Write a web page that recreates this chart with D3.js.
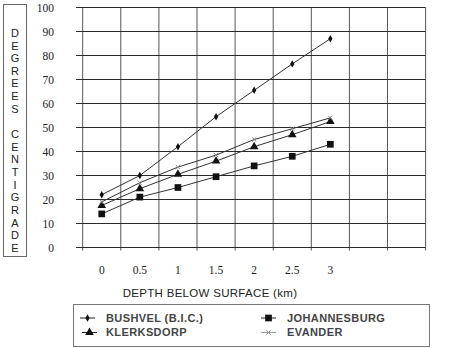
<!DOCTYPE html>
<html><head><meta charset="utf-8">
<script src="https://cdn.jsdelivr.net/npm/d3@7/dist/d3.min.js"></script>
<style>
html,body{margin:0;padding:0;background:#fff;}
svg{display:block;}
.serif{font-family:"Liberation Serif","Times New Roman","DejaVu Serif",serif;}
.sans{font-family:"Liberation Sans",Arial,"DejaVu Sans",sans-serif;}
</style></head>
<body>
<script>
const depths = [0, 0.5, 1, 1.5, 2, 2.5, 3];
const xTickLabels = ["0", "0.5", "1", "1.5", "2", "2.5", "3"];
const yTicks = [0, 10, 20, 30, 40, 50, 60, 70, 80, 90, 100];
const bushvel = [22, 30, 42, 54.5, 65.5, 76.5, 87];
const johannesburg = [14, 21, 25, 29.5, 34, 38, 43];
const klerksdorp = [17.5, 24.5, 30.5, 36, 42, 47, 52.5];
const evander = [19, 27, 33.5, 38.5, 45, 49.5, 54];
const seriesNames = ["BUSHVEL (B.I.C.)", "JOHANNESBURG", "KLERKSDORP", "EVANDER"];
const yTitle = "DEGREES CENTIGRADE";
const xTitle = "DEPTH BELOW SURFACE (km)";

const W = 453, H = 348;
const svg = d3.select("body").append("svg").attr("width", W).attr("height", H);

const x = d3.scaleLinear().domain([-0.25, 4.25]).range([82.7, 425.6]);
const y = d3.scaleLinear().domain([0, 100]).range([247.5, 7.5]);

// vertical grid
const vGrid = d3.range(-0.25, 4.26, 0.5);
svg.append("g").selectAll("line").data(vGrid).join("line")
  .attr("x1", d => x(d)).attr("x2", d => x(d))
  .attr("y1", y(100)).attr("y2", y(0) + 3)
  .attr("stroke", "#555").attr("stroke-width", 1);

// horizontal grid
svg.append("g").selectAll("line").data(yTicks).join("line")
  .attr("x1", 76).attr("x2", x(4.25))
  .attr("y1", d => y(d)).attr("y2", d => y(d))
  .attr("stroke", "#2a2a2a").attr("stroke-width", 1.2);

// y tick labels
svg.append("g").selectAll("text").data(yTicks).join("text")
  .attr("class", "serif")
  .attr("x", 54).attr("y", d => y(d)).attr("dy", "0.35em")
  .attr("text-anchor", "end")
  .attr("font-size", 11.5).attr("fill", "#222")
  .text(d => d);

// x tick labels
svg.append("g").selectAll("text").data(depths).join("text")
  .attr("class", "serif")
  .attr("x", d => x(d)).attr("y", 274)
  .attr("text-anchor", "middle")
  .attr("font-size", 11.5).attr("fill", "#222")
  .text((d, i) => xTickLabels[i]);

// x title
svg.append("text").attr("class", "sans").attr("x", 210).attr("y", 297).attr("text-anchor", "middle")
  .attr("font-size", 11.5).attr("fill", "#222").attr("letter-spacing", 0.3)
  .text(xTitle);

// y title box
svg.append("rect").attr("x", 3.5).attr("y", 4.5).attr("width", 23).attr("height", 252)
  .attr("fill", "none").attr("stroke", "#666").attr("stroke-width", 1);
const letters = yTitle.split("");
svg.append("g").selectAll("text").data(letters).join("text")
  .attr("class", "sans")
  .attr("x", 15).attr("y", (d, i) => 33 + i * 12.65).attr("dy", "0.35em")
  .attr("text-anchor", "middle")
  .attr("font-size", 11).attr("fill", "#222")
  .text(d => d);

// series
const series = [
  {name: seriesNames[0], values: bushvel, sym: d3.symbolDiamond, size: 16},
  {name: seriesNames[1], values: johannesburg, sym: d3.symbolSquare, size: 45},
  {name: seriesNames[2], values: klerksdorp, sym: d3.symbolTriangle, size: 32},
  {name: seriesNames[3], values: evander, sym: d3.symbolX, size: 14}
];
const isX = s => s.sym === d3.symbolX;
const line = d3.line().x((d, i) => x(depths[i])).y(d => y(d));
series.forEach(s => {
  svg.append("path").datum(s.values).attr("d", line)
    .attr("fill", "none").attr("stroke", "#333").attr("stroke-width", 1);
  svg.append("g").selectAll("path").data(s.values).join("path")
    .attr("transform", (d, i) => `translate(${x(depths[i])},${y(d)})`)
    .attr("d", d3.symbol().type(s.sym).size(s.size))
    .attr("fill", isX(s) ? "none" : "#111")
    .attr("stroke", isX(s) ? "#888" : "none").attr("stroke-width", 1);
});

// legend
svg.append("rect").attr("x", 73.5).attr("y", 304.5).attr("width", 356).attr("height", 42)
  .attr("fill", "none").attr("stroke", "#777").attr("stroke-width", 1);
const legPos = [
  {lx: 80, ty: 318, tx: 106},
  {lx: 261, ty: 318, tx: 287},
  {lx: 82, ty: 332.5, tx: 106},
  {lx: 261, ty: 332.5, tx: 287}
];
series.forEach((s, i) => {
  const p = legPos[i];
  svg.append("line").attr("x1", p.lx).attr("x2", p.lx + 15)
    .attr("y1", p.ty).attr("y2", p.ty)
    .attr("stroke", isX(s) ? "#999" : "#222").attr("stroke-width", 1);
  svg.append("path").attr("transform", `translate(${p.lx + 7.5},${p.ty})`)
    .attr("d", d3.symbol().type(s.sym).size(s.size))
    .attr("fill", isX(s) ? "none" : "#111")
    .attr("stroke", isX(s) ? "#888" : "none").attr("stroke-width", 1);
  svg.append("text").attr("class", "sans").attr("x", p.tx).attr("y", p.ty).attr("dy", "0.35em")
    .attr("font-size", 11).attr("font-weight", "bold").attr("fill", "#444")
    .attr("letter-spacing", 0.4)
    .text(s.name);
});
</script>
</body></html>
